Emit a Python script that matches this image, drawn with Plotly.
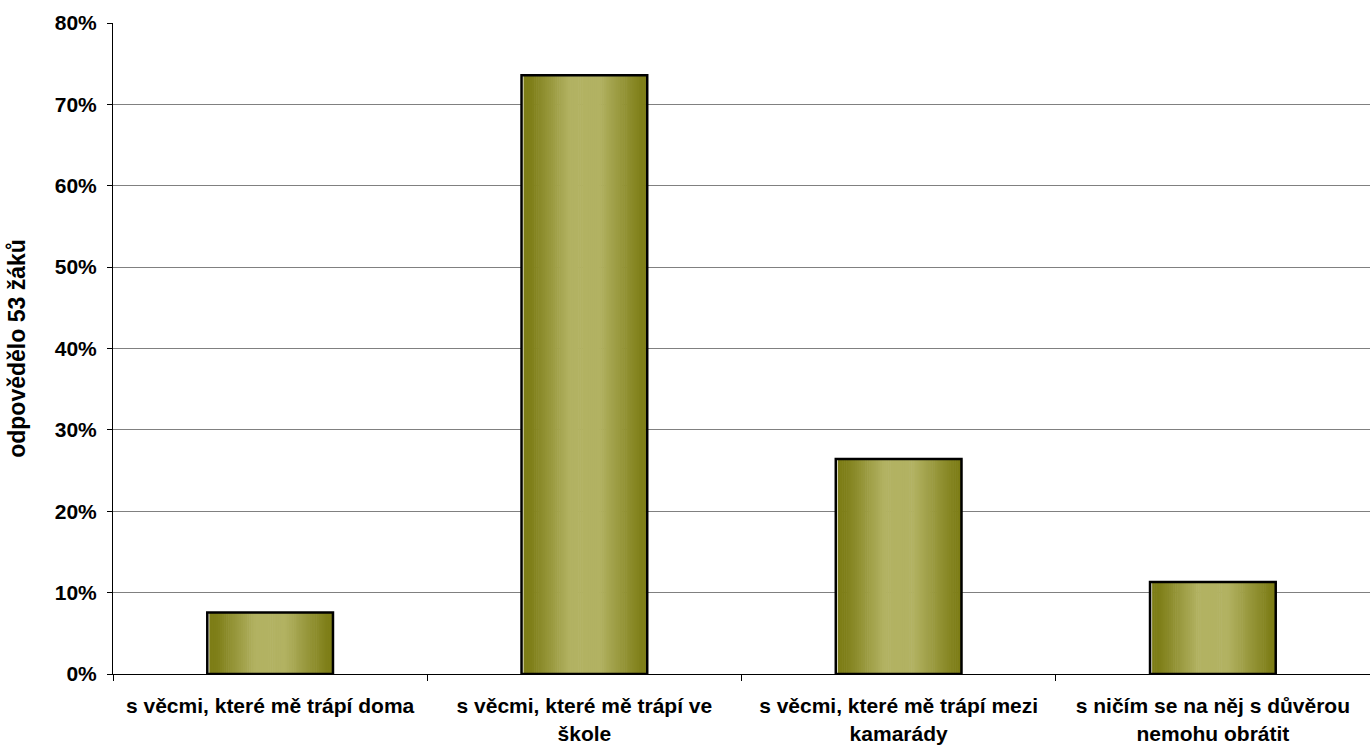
import plotly.graph_objects as go
import numpy as np

categories = [
    "s věcmi, které mě trápí doma",
    "s věcmi, které mě trápí ve<br>škole",
    "s věcmi, které mě trápí mezi<br>kamarády",
    "s ničím se na něj s důvěrou<br>nemohu obrátit",
]
values = [0.0755, 0.7358, 0.2642, 0.1132]
y_title = "odpovědělo 53 žáků"

BAR_W = 0.4
N = 60
dark = np.array([125, 125, 22])
light = np.array([178, 178, 98])
stops_t = [0.0, 0.08, 0.38, 0.62, 0.95, 1.0]
stops_v = [0.0, 0.05, 1.0, 1.0, 0.05, 0.0]

fig = go.Figure()
for i in range(N):
    t = (i + 0.5) / N
    f = np.interp(t, stops_t, stops_v)
    c = dark + (light - dark) * f
    if i == 0:
        col = "rgb(235,235,215)"
    else:
        col = f"rgb({int(c[0])},{int(c[1])},{int(c[2])})"
    fig.add_trace(go.Bar(
        x=categories, y=values,
        width=BAR_W / N * 1.3, offset=-BAR_W / 2 + i * BAR_W / N,
        marker=dict(color=col, line=dict(width=0)),
        showlegend=False, hoverinfo="skip",
    ))
fig.add_trace(go.Bar(
    x=categories, y=values, width=BAR_W,
    marker=dict(color="rgba(0,0,0,0)", line=dict(color="black", width=2.5)),
    showlegend=False,
))

font_b = dict(family="Liberation Sans, Arial, sans-serif", size=21, color="black", weight="bold")
fig.update_layout(
    width=1370, height=746,
    barmode="overlay",
    paper_bgcolor="white", plot_bgcolor="white",
    margin=dict(l=113, r=0, t=23, b=72),
    xaxis=dict(
        showline=True, linecolor="black", linewidth=1,
        ticks="outside", tickson="boundaries", ticklen=6, tickcolor="black",
        tickfont=font_b, showgrid=False, ticklabelstandoff=13,
    ),
    yaxis=dict(
        range=[0, 0.8], dtick=0.1, tickformat=".0%",
        showline=True, linecolor="black", linewidth=1,
        ticks="outside", ticklen=5, tickcolor="black",
        showgrid=True, gridcolor="#808080", gridwidth=1,
        tickfont=font_b, zeroline=False, ticklabelstandoff=6,
        title=dict(text=y_title, font=dict(family="Liberation Sans, Arial, sans-serif", size=23, color="black", weight="bold"), standoff=22),
    ),
)
fig.write_html("out.html", config={"displayModeBar": False},
               post_script="document.body.style.margin='0';")
